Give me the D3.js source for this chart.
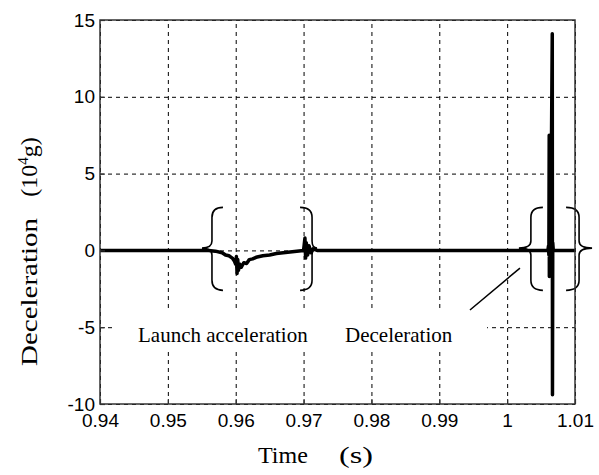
<!DOCTYPE html>
<html>
<head>
<meta charset="utf-8">
<script src="https://cdn.jsdelivr.net/npm/d3@7"></script>
<style>
  body { margin: 0; background: #fff; }
  .tick text { font-family: "Liberation Sans", Arial, sans-serif; font-size: 19px; fill: #000; }
  .serif { font-family: "Liberation Serif", "Times New Roman", serif; fill: #000; }
</style>
</head>
<body>
<svg id="chart" width="599" height="475"></svg>
<script>
// time (s) and deceleration (10^4 g)
const times = [
  0.94, 0.956, 0.957, 0.958, 0.9585, 0.959, 0.9595, 0.9598, 0.96, 0.9601,
  0.9602, 0.9603, 0.9604, 0.9606, 0.9608, 0.9612, 0.9616, 0.962, 0.9625, 0.963,
  0.964, 0.965, 0.966, 0.967, 0.968, 0.969, 0.97, 0.9702, 0.9703, 0.9704,
  0.9706, 0.9708, 0.9711, 0.9714, 0.972, 1.006, 1.0061, 1.00615, 1.0062, 1.00622,
  1.00625, 1.0063, 1.00635, 1.0064, 1.00645, 1.00665, 1.00668, 1.00672, 1.0068, 1.01
];
const accel = [
  0, 0, -0.05, -0.15, -0.3, -0.35, -0.5, -0.7, -0.9, -0.4,
  -1.5, -0.6, -1.3, -0.9, -1.1, -0.8, -0.85, -0.6, -0.55, -0.45,
  -0.35, -0.3, -0.2, -0.15, -0.1, -0.05, 0, 0.8, -0.5, 0.5,
  -0.3, 0.3, -0.15, 0.1, 0, 0, 0.3, -0.3, 7.5, -1.7,
  2.8, -1.6, 2.5, -1.5, 2.0, 14.1, -9.4, 0.5, 0, 0
];
const xTicks = [0.94, 0.95, 0.96, 0.97, 0.98, 0.99, 1, 1.01];
const yTicks = [-10, -5, 0, 5, 10, 15];

// bracket annotations: centre time, side the tip points to
const braces = [
  { t: 0.9565, side: "left", tip: 10, hook: 11 },
  { t: 0.97125, side: "right", tip: 5, hook: 12 },
  { t: 1.0035, side: "left", tip: 12, hook: 12 },
  { t: 1.0106, side: "right", tip: 13, hook: 13 }
];
const braceTop = 2.8, braceMid = 0.15, braceBot = -2.6;

const svg = d3.select("#chart");
const margin = { top: 20, right: 24, bottom: 71, left: 100 },
  width = +svg.attr("width") - margin.left - margin.right,
  height = +svg.attr("height") - margin.top - margin.bottom;

const x = d3.scaleLinear().domain([0.94, 1.01]).range([0, width]);
const y = d3.scaleLinear().domain([-10, 15]).range([height, 0]);

const g = svg.append("g").attr("transform", `translate(${margin.left},${margin.top})`);

// grid
g.append("g")
  .attr("class", "grid")
  .attr("transform", `translate(0,${height})`)
  .call(d3.axisBottom(x).tickValues(xTicks).tickSize(-height).tickFormat(""))
  .call((s) => s.select(".domain").remove());
g.append("g")
  .attr("class", "grid")
  .call(d3.axisLeft(y).tickValues(yTicks).tickSize(-width).tickFormat(""))
  .call((s) => s.select(".domain").remove());
g.selectAll(".grid line").attr("stroke", "#000").attr("stroke-width", 1).attr("stroke-dasharray", "4,4");

// white label panel hides the grid under the annotation text
g.append("rect")
  .attr("x", 13)
  .attr("y", y(-3.88))
  .attr("width", 374)
  .attr("height", 40)
  .attr("fill", "#fff");

// trace
const line = d3.line().x((d, i) => x(times[i])).y((d) => y(d));
g.append("path")
  .datum(accel)
  .attr("fill", "none")
  .attr("stroke", "#000")
  .attr("stroke-width", 3.5)
  .attr("stroke-linejoin", "round")
  .attr("d", line);

// brackets
g.selectAll(".brace")
  .data(braces)
  .enter()
  .append("path")
  .attr("class", "brace")
  .attr("fill", "none")
  .attr("stroke", "#000")
  .attr("stroke-width", 1.6)
  .attr("d", (b) => {
    const x0 = x(b.t), s = b.side === "left" ? 1 : -1;
    const yt = y(braceTop), ym = y(braceMid), yb = y(braceBot);
    const h = x0 + s * b.hook, tip = x0 - s * b.tip;
    return `M${h},${yt} Q${x0},${yt} ${x0},${yt + 10} L${x0},${ym - 7} Q${x0},${ym} ${tip},${ym}` +
      ` Q${x0},${ym} ${x0},${ym + 7} L${x0},${yb - 10} Q${x0},${yb} ${h},${yb}`;
  });

// leader line to the deceleration bracket
g.append("line")
  .attr("x1", x(0.99452))
  .attr("y1", y(-3.88))
  .attr("x2", x(1.00189))
  .attr("y2", y(-1.15))
  .attr("stroke", "#000")
  .attr("stroke-width", 1.5);

// axes
g.append("g")
  .attr("transform", `translate(0,${height})`)
  .call(d3.axisBottom(x).tickValues(xTicks).tickSizeInner(-5).tickSizeOuter(0).tickPadding(10).tickFormat((d) => String(d)))
  .call((s) => s.select(".domain").remove());
g.append("g")
  .call(d3.axisLeft(y).tickValues(yTicks).tickSizeInner(-5).tickSizeOuter(0).tickPadding(5).tickFormat((d) => String(d)))
  .call((s) => s.select(".domain").remove());
g.selectAll(".tick line").filter(function () { return !this.closest(".grid"); })
  .attr("stroke", "#333").attr("stroke-width", 1.2);

g.append("rect")
  .attr("width", width)
  .attr("height", height)
  .attr("fill", "none")
  .attr("stroke", "#333")
  .attr("stroke-width", 1.5);

// annotation text
g.append("text").attr("class", "serif").attr("x", 38).attr("y", y(-3.88) + 32)
  .style("font-size", "21px").text("Launch acceleration");
g.append("text").attr("class", "serif").attr("x", 245).attr("y", y(-3.88) + 32)
  .style("font-size", "21px").text("Deceleration");

// axis titles
svg.append("text").attr("class", "serif")
  .attr("x", 258).attr("y", 463).style("font-size", "24px").text("Time");
svg.append("text").attr("class", "serif")
  .attr("x", 339).attr("y", 463).style("font-size", "24px")
  .attr("textLength", 34).attr("lengthAdjust", "spacingAndGlyphs").text("(s)");

svg.append("text").attr("class", "serif")
  .attr("transform", "translate(37,292) rotate(-90)")
  .attr("text-anchor", "middle").style("font-size", "24px")
  .attr("textLength", 148).attr("lengthAdjust", "spacingAndGlyphs")
  .text("Deceleration");
const yl = svg.append("text").attr("class", "serif")
  .attr("transform", "translate(37,167) rotate(-90)")
  .attr("text-anchor", "middle").style("font-size", "24px");
yl.append("tspan").text("(10");
yl.append("tspan").attr("dy", -9).style("font-size", "15px").text("4");
yl.append("tspan").attr("dy", 9).text("g)");
</script>
</body>
</html>
